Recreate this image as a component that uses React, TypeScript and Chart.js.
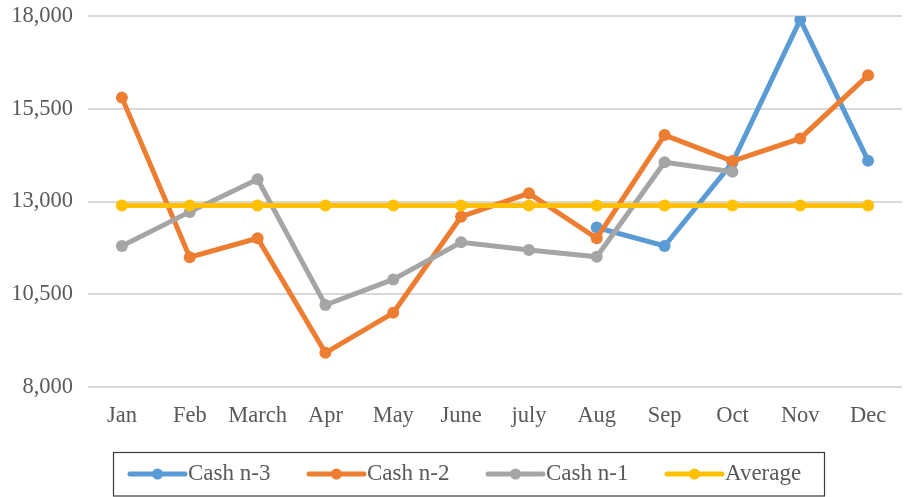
import React, { useEffect, useRef } from "react";
import { Chart, registerables } from "chart.js";

Chart.register(...registerables);

const categories = ["Jan", "Feb", "March", "Apr", "May", "June", "july", "Aug", "Sep", "Oct", "Nov", "Dec"];
const cashN3 = [null, null, null, null, null, null, null, 12300, 11800, 14050, 17900, 14100];
const cashN2 = [15800, 11500, 12010, 8920, 10000, 12590, 13220, 12010, 14790, 14090, 14700, 16400];
const cashN1 = [11800, 12720, 13600, 10210, 10900, 11900, 11690, 11510, 14060, 13800, null, null];
const average = [12890, 12890, 12890, 12890, 12890, 12890, 12890, 12890, 12890, 12890, 12890, 12890];
const seriesNames = ["Cash n-3", "Cash n-2", "Cash n-1", "Average"];
const seriesColors = ["#5B9BD5", "#ED7D31", "#A5A5A5", "#FFC000"];
const yMin = 8000;
const yMax = 18000;
const yStep = 2500;

const FONT = "'Liberation Serif', 'Times New Roman', serif";

const legendPlugin = {
  id: "boxedLegend",
  afterDraw(chart: any) {
    const ctx = chart.ctx;
    ctx.save();
    ctx.strokeStyle = "#3a3a3a";
    ctx.lineWidth = 1.2;
    ctx.strokeRect(113.5, 452.5, 711, 43.5);
    const cy = 474;
    chart.data.datasets.forEach((ds: any, i: number) => {
      const x0 = 130 + i * 179;
      ctx.strokeStyle = ds.borderColor;
      ctx.lineWidth = 5;
      ctx.lineCap = "round";
      ctx.beginPath();
      ctx.moveTo(x0, cy);
      ctx.lineTo(x0 + 55, cy);
      ctx.stroke();
      ctx.fillStyle = ds.borderColor;
      ctx.beginPath();
      ctx.arc(x0 + 27.5, cy, 5.5, 0, Math.PI * 2);
      ctx.fill();
      ctx.fillStyle = "#595959";
      ctx.font = `23px ${FONT}`;
      ctx.textBaseline = "middle";
      ctx.textAlign = "left";
      ctx.fillText(ds.label, x0 + 58, cy);
    });
    ctx.restore();
  },
};

export default function App() {
  const ref = useRef<HTMLCanvasElement>(null);
  useEffect(() => {
    if (!ref.current) return;
    const series = [cashN3, cashN2, cashN1, average];
    const chart = new Chart(ref.current, {
      type: "line",
      data: {
        labels: categories,
        datasets: series.map((d, i) => ({
          label: seriesNames[i],
          data: d,
          borderColor: seriesColors[i],
          backgroundColor: seriesColors[i],
          pointBackgroundColor: seriesColors[i],
          pointBorderColor: seriesColors[i],
          borderWidth: 5,
          pointRadius: 6,
          pointBorderWidth: 0,
          tension: 0,
          spanGaps: false,
          order: 4 - i,
        })),
      },
      options: {
        responsive: false,
        animation: false,
        layout: { padding: { top: 16, right: 2, bottom: 70, left: 0 } },
        plugins: {
          legend: { display: false },
          tooltip: { enabled: false },
        },
        scales: {
          x: {
            offset: true,
            grid: { display: false, drawTicks: false },
            border: { display: false },
            ticks: {
              color: "#595959",
              font: { family: FONT, size: 22.5 },
              padding: 16,
              maxRotation: 0,
              autoSkip: false,
            },
            afterFit(scale: any) {
              scale.height = 40;
              scale.paddingLeft = 0;
              scale.paddingRight = 0;
            },
          },
          y: {
            min: yMin,
            max: yMax,
            grid: { color: "#D9D9D9", lineWidth: 2, drawTicks: false },
            border: { display: false },
            ticks: {
              stepSize: yStep,
              color: "#595959",
              font: { family: FONT, size: 22.5 },
              padding: 15,
              callback: (v: any) => Number(v).toLocaleString("en-US"),
            },
            afterFit(scale: any) {
              scale.width = 88;
              scale.paddingTop = 0;
              scale.paddingBottom = 0;
            },
          },
        },
      },
      plugins: [legendPlugin],
    });
    return () => chart.destroy();
  }, []);
  return (
    <div style={{ position: "fixed", left: 0, top: 0, width: 908, height: 497, background: "#fff" }}>
      <canvas ref={ref} width={908} height={497} />
    </div>
  );
}
